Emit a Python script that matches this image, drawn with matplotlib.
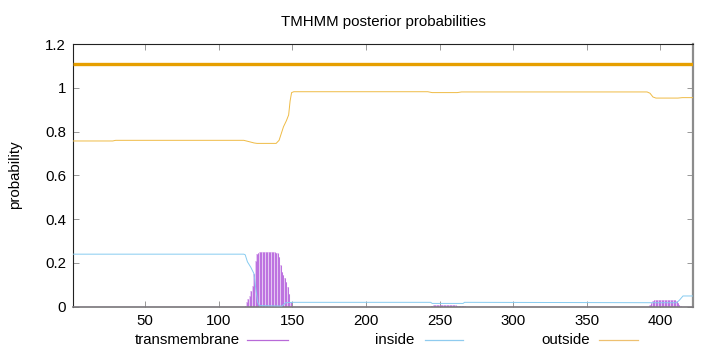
import numpy as np
import matplotlib
matplotlib.use("Agg")
import matplotlib.pyplot as plt
from matplotlib.lines import Line2D

plt.rcParams['font.family'] = ['Liberation Sans', 'DejaVu Sans']

# ---- data ----
seq_len = 422

# outside probability, line vertices (residue, prob)
outside_x = [1, 28, 30, 117, 120, 124, 126, 139, 141, 144, 146, 147.5, 148.5, 149.5, 151,
             242, 245, 262, 265, 391, 393, 395, 397, 412, 415, 422]
outside_y = [0.757, 0.757, 0.760, 0.760, 0.755, 0.748, 0.746, 0.746, 0.760, 0.822, 0.850, 0.876,
             0.940, 0.978, 0.982, 0.982, 0.978, 0.978, 0.981, 0.981, 0.975, 0.958, 0.953,
             0.953, 0.955, 0.955]

# inside probability, line vertices
inside_x = [1, 117, 118, 119.5, 121.8, 124, 125.2, 126.5, 127.6, 143, 145.5, 150,
            244, 245, 266, 267, 411, 413, 415.4, 422]
inside_y = [0.240, 0.240, 0.237, 0.205, 0.180, 0.150, 0.080, 0.020, 0.005, 0.003, 0.018, 0.020,
            0.020, 0.015, 0.015, 0.020, 0.018, 0.030, 0.049, 0.049]

# transmembrane probability per residue (non-zero stretches only)
tm_res_1 = list(range(118, 151))
tm_val_1 = [0.005, 0.020, 0.035, 0.050, 0.070, 0.095, 0.150, 0.210, 0.240, 0.246,
            0.248, 0.248, 0.248, 0.248, 0.248, 0.248, 0.248, 0.248, 0.248, 0.248,
            0.248, 0.247, 0.245, 0.225, 0.190, 0.160, 0.145, 0.130, 0.115, 0.090,
            0.060, 0.020, 0.005]
tm_res_2 = list(range(244, 268))
tm_val_2 = [0.003, 0.005, 0.006, 0.006, 0.007, 0.007, 0.007, 0.006, 0.006, 0.006,
            0.006, 0.006, 0.006, 0.006, 0.006, 0.006, 0.006, 0.006, 0.005, 0.005,
            0.005, 0.004, 0.004, 0.003]
tm_res_3 = list(range(392, 415))
tm_val_3 = [0.003, 0.008, 0.015, 0.025, 0.030, 0.030, 0.030, 0.030, 0.030, 0.030,
            0.030, 0.030, 0.030, 0.030, 0.030, 0.030, 0.030, 0.030, 0.030, 0.025,
            0.015, 0.006, 0.002]

# predicted topology bar
topo_start = [1]
topo_end = [422]
topo_level = 1.11

x_ticks = [50, 100, 150, 200, 250, 300, 350, 400]
y_ticks = [0, 0.2, 0.4, 0.6, 0.8, 1.0, 1.2]
y_tick_labels = ["0", "0.2", "0.4", "0.6", "0.8", "1", "1.2"]

legend_labels = ["transmembrane", "inside", "outside"]

C_OUT = "#e69f00"

# ---- figure ----
W, H = 720, 352
fig = plt.figure(figsize=(W / 100, H / 100), dpi=100)
ax = fig.add_axes([73 / W, 1 - 306.7 / H, (692.7 - 73) / W, (306.7 - 44) / H])

FS = 10.8

for rr, vv in [(tm_res_1, tm_val_1), (tm_res_2, tm_val_2), (tm_res_3, tm_val_3)]:
    ax.fill_between(rr, 0, vv, step="mid", color="#e6caf4", lw=0, zorder=1)
    ax.vlines(rr, 0, vv, colors="#bd73e0", lw=0.75, zorder=2)

ax.plot(inside_x, inside_y, color="#86cbf0", lw=0.7, zorder=3)
ax.plot(outside_x, outside_y, color="#efbb45", lw=0.7, zorder=3)
ax.hlines([topo_level] * len(topo_start), topo_start, topo_end, colors=C_OUT, lw=2.4, zorder=3)
ax.axhline(0, color="#9a7fa6", lw=1.0, zorder=4)

ax.set_xlim(1, seq_len)
ax.set_ylim(0, 1.2)
ax.set_xticks(x_ticks)
ax.set_yticks(y_ticks)
ax.set_yticklabels(y_tick_labels)
ax.tick_params(direction="in", length=4, width=0.6, color="#888888", labelsize=FS,
               top=True, right=True, pad=5, labelcolor="black")
for s in ["left", "top"]:
    ax.spines[s].set_linewidth(0.8)
    ax.spines[s].set_color("#222222")
ax.spines["right"].set_linewidth(1.6)
ax.spines["right"].set_color("#8c8c8c")
ax.spines["bottom"].set_linewidth(1.2)
ax.spines["bottom"].set_color("#777777")

fig.text(383 / W, 1 - 21.7 / H, "TMHMM posterior probabilities", ha="center", va="center", fontsize=FS)
fig.text(15 / W, 1 - 175 / H, "probability", rotation=90, ha="center", va="center", fontsize=FS)

# legend below plot
leg_text_right = [240, 414, 590]
leg_line = [(247, 288), (425, 463), (599, 638)]
leg_colors = ["#b86ad8", "#8fcbef", "#eec070"]
ly = 1 - 340 / H
for lab, xr, (x0, x1), c in zip(legend_labels, leg_text_right, leg_line, leg_colors):
    fig.text(xr / W, ly, lab, ha="right", va="center", fontsize=FS)
    fig.add_artist(Line2D([x0 / W, x1 / W], [ly, ly], color=c, lw=0.9, transform=fig.transFigure))

fig.savefig("out.png", dpi=100)
